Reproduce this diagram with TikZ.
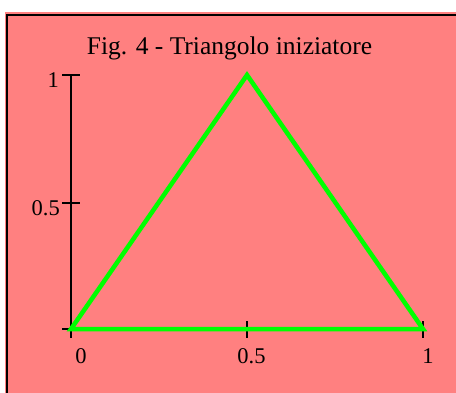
\documentclass[tikz,border=0pt]{standalone}
\usepackage{fontspec}
\setmainfont{Liberation Serif}
\tikzset{
  axisline/.style={black, line width=1.8pt},
  tri/.style={draw=triangreen, line width=4.5pt, line join=miter},
  ticklbl/.style={inner sep=0pt, font=\fontsize{22.5}{24}\selectfont},
}
\definecolor{salmon}{HTML}{FF8080}
\definecolor{triangreen}{HTML}{00FF00}
\begin{document}
\begin{tikzpicture}[x=1pt,y=-1pt]
\useasboundingbox (0,0) rectangle (456,392);
\clip (0,0) rectangle (456,392);
\fill[white] (0,0) rectangle (456,392);
\fill[salmon] (5,12) rectangle (470,410);
\draw[black, line width=2pt] (7,420) -- (7,15) -- (470,15);
% title
\node[anchor=base, inner sep=0pt, font=\fontsize{25.5}{28}\selectfont] (title) at (229.5,54) {Fig. 4 - Triangolo iniziatore};
% axes
\coordinate (ytop) at (71,75);
\coordinate (ybot) at (71,338);
\draw[axisline] (ytop) -- (ybot);
\coordinate (yt1a) at (62,75); \coordinate (yt1b) at (80,75);
\coordinate (yt2a) at (62,203); \coordinate (yt2b) at (80,203);
\coordinate (yt0a) at (62,329); \coordinate (yt0b) at (80,329);
\draw[axisline] (yt1a) -- (yt1b);
\draw[axisline] (yt2a) -- (yt2b);
\draw[axisline] (yt0a) -- (yt0b);
\coordinate (xt2a) at (247,321); \coordinate (xt2b) at (247,338);
\coordinate (xt3a) at (423,321); \coordinate (xt3b) at (423,338);
\draw[axisline] (xt2a) -- (xt2b);
\draw[axisline] (xt3a) -- (xt3b);
% tick labels
\node[ticklbl, anchor=base east] (ly1) at (59,87) {1};
\node[ticklbl, anchor=base east] (ly05) at (60,215) {0.5};
\node[ticklbl, anchor=base] (lx0) at (81,363) {0};
\node[ticklbl, anchor=base] (lx05) at (251.5,363) {0.5};
\node[ticklbl, anchor=base] (lx1) at (428,363) {1};
% triangle
\coordinate (A) at (71,329);
\coordinate (B) at (247,75);
\coordinate (C) at (423,329);
\draw[tri] (A) -- (B) -- (C) -- cycle;
\end{tikzpicture}
\end{document}
